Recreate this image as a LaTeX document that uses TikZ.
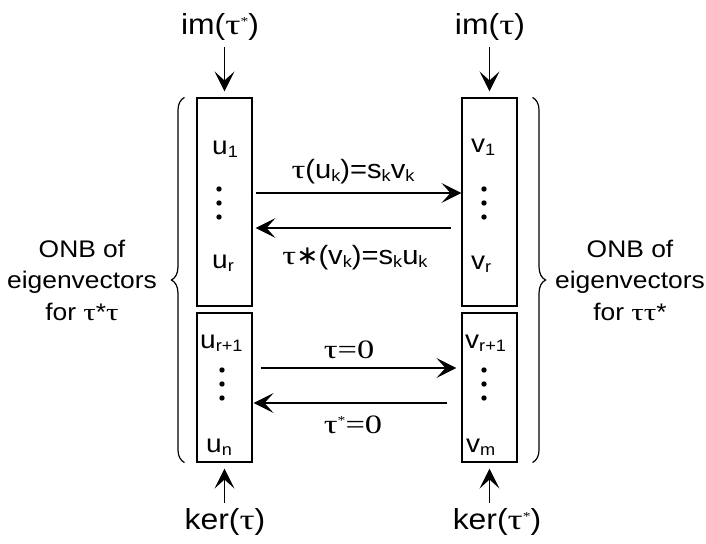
\documentclass[tikz,border=0pt]{standalone}
\usepackage{fontspec}
\setmainfont{Liberation Sans}[FakeStretch=1.1]
\newfontfamily\serf{Liberation Serif}[FakeStretch=1.3]
\newfontfamily\djv{DejaVu Sans}
\usetikzlibrary{arrows.meta,decorations.pathreplacing}

\newcommand\tw{{\serf τ}}
\newcommand\lo[1]{\raisebox{-3.5pt}{\fontsize{16.5}{16.5}\selectfont #1}}
\newcommand\hi[1]{\raisebox{9pt}{\fontsize{12}{12}\selectfont\serf #1}}

\begin{document}
\begin{tikzpicture}[x=1pt,y=-1pt,
    box/.style={draw,line width=1.1pt,minimum width=55pt,inner sep=0pt},
    arr/.style={-{Stealth[length=20pt,width=20pt,inset=9pt]},line width=1.3pt},
    lab/.style={font=\fontsize{29}{31}\selectfont},
    ent/.style={font=\fontsize{25.5}{27}\selectfont,anchor=base west,inner sep=0pt},
    arrlab/.style={font=\fontsize{26.5}{28}\selectfont,anchor=base,inner sep=0pt},
    side/.style={font=\fontsize{24}{31.5}\selectfont,align=center,anchor=base},
    brc/.style={decorate,decoration={brace,amplitude=13pt},line width=1.2pt}]
\useasboundingbox (0,0) rectangle (706,543);

% the four boxes
\node[box,minimum height=208pt] (ltop) at (224.5,202) {};
\node[box,minimum height=149pt] (lbot) at (224.5,387.5) {};
\node[box,minimum height=208pt] (rtop) at (489.5,202) {};
\node[box,minimum height=149pt] (rbot) at (489.5,387.5) {};

% entries
\node[ent] (u1) at (212,154) {u\lo{1}};
\node[ent] (ur) at (212,268) {u\lo{r}};
\node[ent] (ur1) at (200,348) {u\lo{r+1}};
\node[ent] (un) at (206,452) {u\lo{n}};
\node[ent] (v1) at (471,152) {v\lo{1}};
\node[ent] (vr) at (471,269) {v\lo{r}};
\node[ent] (vr1) at (465,348) {v\lo{r+1}};
\node[ent] (vm) at (466,452) {v\lo{m}};
\foreach \y in {189,203,217} {
  \fill (219,\y) circle (2.7);
  \fill (484,\y) circle (2.7);
}
\foreach \y in {370,384,398} {
  \fill (222,\y) circle (2.7);
  \fill (484,\y) circle (2.7);
}

% images and kernels
\node[lab] (imL) at (220,27) {im(\tw\hi{*})};
\node[lab] (imR) at (490,27) {im(\tw)};
\node[lab] (kerL) at (225,522) {ker(\tw)};
\node[lab] (kerR) at (497,522) {ker(\tw\hi{*})};
\draw[arr,shorten <=3pt,shorten >=6pt] (imL.south -| ltop.north) -- (ltop.north);
\draw[arr,shorten <=3pt,shorten >=6pt] (imR.south -| rtop.north) -- (rtop.north);
\draw[arr,shorten <=2pt,shorten >=6pt] (kerL.north -| lbot.south) -- (lbot.south);
\draw[arr,shorten <=2pt,shorten >=6pt] (kerR.north -| rbot.south) -- (rbot.south);

% maps between the boxes
\draw[arr] ([shift={(3,-9)}]ltop.east) -- ([shift={(0,-9)}]rtop.west);
\draw[arr] ([shift={(-10,26)}]rtop.west) -- ([shift={(3,26)}]ltop.east);
\draw[arr] ([shift={(8,-19.5)}]lbot.east) -- ([shift={(-5,-19.5)}]rbot.west);
\draw[arr] ([shift={(-14,15.5)}]rbot.west) -- ([shift={(1,15.5)}]lbot.east);
\node[arrlab] (tauu) at (353,178) {\tw(u\lo{k})=s\lo{k}v\lo{k}};
\node[arrlab] (taustv) at (355,264) {\tw{\djv ∗}(v\lo{k})=s\lo{k}u\lo{k}};
\node[arrlab] (tauz) at (349,358) {{\serf τ=0}};
\node[arrlab] (taustz) at (353,433) {{\serf τ\hi{*}=0}};

% braces and side texts
\draw[brc] ([xshift=-12pt]lbot.south west) -- ([xshift=-12pt]ltop.north west);
\draw[brc] ([xshift=15pt]rtop.north east) -- ([xshift=15pt]rbot.south east);
\node[side] (onbL) at (82,320) {ONB of\\eigenvectors\\for \tw*\tw};
\node[side] (onbR) at (630,320) {ONB of\\eigenvectors\\for \tw\tw*};
\end{tikzpicture}
\end{document}
